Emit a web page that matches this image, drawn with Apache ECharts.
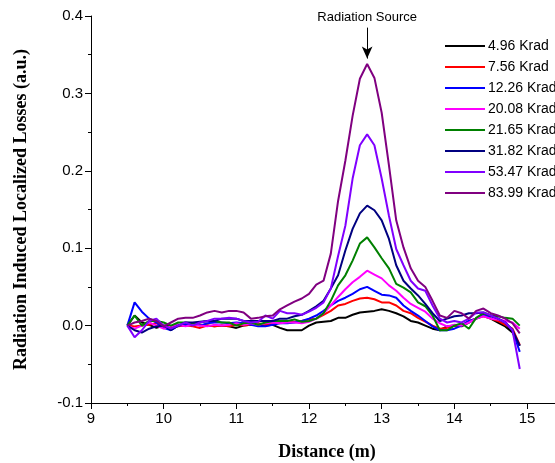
<!DOCTYPE html>
<html><head><meta charset="utf-8">
<script src="https://cdn.jsdelivr.net/npm/echarts@6/dist/echarts.min.js"></script>
<style>html,body{margin:0;padding:0;background:#fff}#c{width:555px;height:463px}</style>
</head><body><div id="c"></div>
<script>
// Distance (m): 9.5 .. 14.9 step 0.1
const distance = [9.5,9.6,9.7,9.8,9.9,10.0,10.1,10.2,10.3,10.4,10.5,10.6,10.7,10.8,10.9,11.0,11.1,11.2,11.3,11.4,11.5,11.6,11.7,11.8,11.9,12.0,12.1,12.2,12.3,12.4,12.5,12.6,12.7,12.8,12.9,13.0,13.1,13.2,13.3,13.4,13.5,13.6,13.7,13.8,13.9,14.0,14.1,14.2,14.3,14.4,14.5,14.6,14.7,14.8,14.9];
const seriesNames = ["4.96 Krad","7.56 Krad","12.26 Krad","20.08 Krad","21.65 Krad","31.82 Krad","53.47 Krad","83.99 Krad"];
const seriesColors = ["#000000","#ff0000","#0000ff","#ff00ff","#008000","#000080","#8000ff","#800080"];

const k496 = [0,.013,.004,.001,-.003,0,-.001,.001,0,.003,.001,0,-.001,0,-.001,-.003,0,.001,.001,0,.001,-.003,-.006,-.006,-.006,0,.004,.005,.006,.010,.010,.014,.017,.018,.019,.021,.019,.016,.012,.006,.004,0,-.004,-.006,-.001,0,-.001,.004,.009,.014,.009,.004,-.001,-.009,-.026];
const k756 = [0,-.001,0,.001,.003,-.001,-.003,-.001,0,-.001,-.003,0,-.001,0,-.001,.001,0,.001,.003,.001,.003,.004,.004,.005,.006,.008,.009,.014,.019,.026,.028,.032,.035,.036,.034,.030,.030,.026,.019,.016,.010,.005,0,-.004,-.003,0,0,.006,.009,.012,.009,.006,.001,-.004,-.025];
const k1226 = [0,.030,.018,.009,.004,-.003,-.006,0,.001,.003,0,.003,.004,.004,.003,.004,.003,.001,-.001,-.001,.001,.003,.003,.004,.006,.009,.013,.019,.026,.032,.036,.041,.047,.050,.045,.040,.039,.036,.026,.019,.013,.006,-.001,-.006,-.006,-.004,0,.006,.009,.013,.012,.009,.004,-.006,-.034];
const k2008 = [0,-.004,0,.004,0,-.004,-.001,.001,-.001,.001,0,-.001,.001,0,.001,.003,.001,.003,.001,.003,.004,.003,.004,.004,.003,.005,.009,.016,.026,.037,.047,.056,.063,.071,.066,.061,.052,.045,.036,.028,.023,.018,.009,.003,-.001,.001,0,.004,.009,.012,.009,.008,.006,.004,-.004];
const k2165 = [0,.013,0,.006,.006,.004,0,.004,.004,.003,.004,.006,.006,.004,.004,0,.003,.004,.001,.004,.006,.006,.006,.008,.005,.006,.009,.016,.032,.052,.065,.084,.106,.114,.101,.087,.074,.054,.049,.043,.030,.025,.013,-.006,-.006,0,.003,-.004,.010,.016,.013,.012,.010,.009,0];
const k3182 = [0,-.006,-.009,-.004,-.001,0,-.006,0,.004,.004,.005,.006,.006,.009,.009,.009,.006,.006,.006,.006,.006,.009,.009,.012,.014,.019,.025,.032,.048,.065,.097,.125,.145,.155,.149,.136,.112,.078,.058,.048,.039,.028,.016,.006,.009,.012,.013,.016,.016,.017,.013,.009,.004,-.006,-.026];
const k5347 = [0,-.015,-.006,.006,.009,0,-.004,0,.004,0,.004,.006,.009,.009,.010,.009,.006,.004,.005,.013,.009,.019,.016,.016,.014,.018,.023,.030,.048,.090,.129,.190,.233,.247,.233,.190,.142,.099,.078,.058,.048,.045,.026,.009,.004,.006,.004,.009,.017,.017,.013,.009,.004,-.006,-.056];
const k8399 = [0,.004,.006,.009,.006,-.001,.004,.009,.010,.010,.013,.017,.019,.017,.019,.019,.017,.009,.010,.012,.013,.021,.026,.031,.035,.041,.053,.058,.093,.161,.213,.271,.319,.338,.320,.275,.207,.136,.101,.074,.058,.050,.032,.013,.010,.019,.016,.009,.019,.022,.016,.013,.009,.003,-.010];
const seriesValues = [k496,k756,k1226,k2008,k2165,k3182,k5347,k8399];

const annotationText = "Radiation Source";
const annotationX = 12.8;

const chart = echarts.init(document.getElementById('c'), null, {renderer:'canvas'});
const series = seriesNames.map((name, i) => ({
  name, type: 'line', showSymbol: false, symbol: 'none', animation: false,
  data: distance.map((x, j) => [x, seriesValues[i][j]]),
  lineStyle: {color: seriesColors[i], width: 2},
  itemStyle: {color: seriesColors[i]},
  z: 2 + i
}));
series[series.length-1].markLine = {
  silent: true, animation: false, symbol: ['none','arrow'], symbolSize: [8, 12],
  lineStyle: {color: '#000', width: 1, type: 'solid'},
  label: {show: true, position: 'start', formatter: annotationText, color: '#000', fontSize: 13, fontFamily: 'Liberation Sans, Arial', distance: 4},
  data: [[{coord: [annotationX, 0.385]}, {coord: [annotationX, 0.345]}]]
};

chart.setOption({
  backgroundColor: '#fff',
  animation: false,
  grid: {left: 91, top: 16, right: 0, bottom: 60, containLabel: false, outerBoundsMode: 'none'},
  legend: {
    orient: 'vertical', left: 440, top: 34, itemWidth: 40, itemHeight: 2, itemGap: 7,
    icon: 'rect', data: seriesNames,
    textStyle: {fontSize: 14, fontFamily: 'Liberation Sans, Arial', color: '#000', lineHeight: 14, padding: [0,0,0,-2]}
  },
  xAxis: {
    type: 'value', min: 9, max: 15.385, interval: 1,
    name: 'Distance (m)', nameLocation: 'middle', nameGap: 40,
    nameTextStyle: {fontSize: 18, fontWeight: 'bold', fontFamily: 'Liberation Serif, Times New Roman', color: '#000', padding: [0,0,0,8]},
    axisLine: {show: true, onZero: false, lineStyle: {color: '#000', width: 1}},
    axisTick: {show: true, inside: false, length: 6, lineStyle: {color: '#000'}},
    minorTick: {show: true, splitNumber: 2, length: 3, lineStyle: {color: '#000'}},
    axisLabel: {fontSize: 15, fontFamily: 'Liberation Sans, Arial', color: '#000', margin: 8, showMaxLabel: false},
    splitLine: {show: false}
  },
  yAxis: {
    type: 'value', min: -0.1, max: 0.4, interval: 0.1,
    name: 'Radiation Induced Localized Losses (a.u.)', nameLocation: 'middle', nameGap: 61,
    nameTextStyle: {fontSize: 18, fontWeight: 'bold', fontFamily: 'Liberation Serif, Times New Roman', color: '#000'},
    axisLine: {show: true, onZero: false, lineStyle: {color: '#000', width: 1}},
    axisTick: {show: true, inside: false, length: 6, lineStyle: {color: '#000'}},
    minorTick: {show: true, splitNumber: 2, length: 3, lineStyle: {color: '#000'}},
    axisLabel: {fontSize: 15, fontFamily: 'Liberation Sans, Arial', color: '#000', margin: 8, formatter: v => v.toFixed(1)},
    splitLine: {show: false}
  },
  series
});
</script></body></html>
